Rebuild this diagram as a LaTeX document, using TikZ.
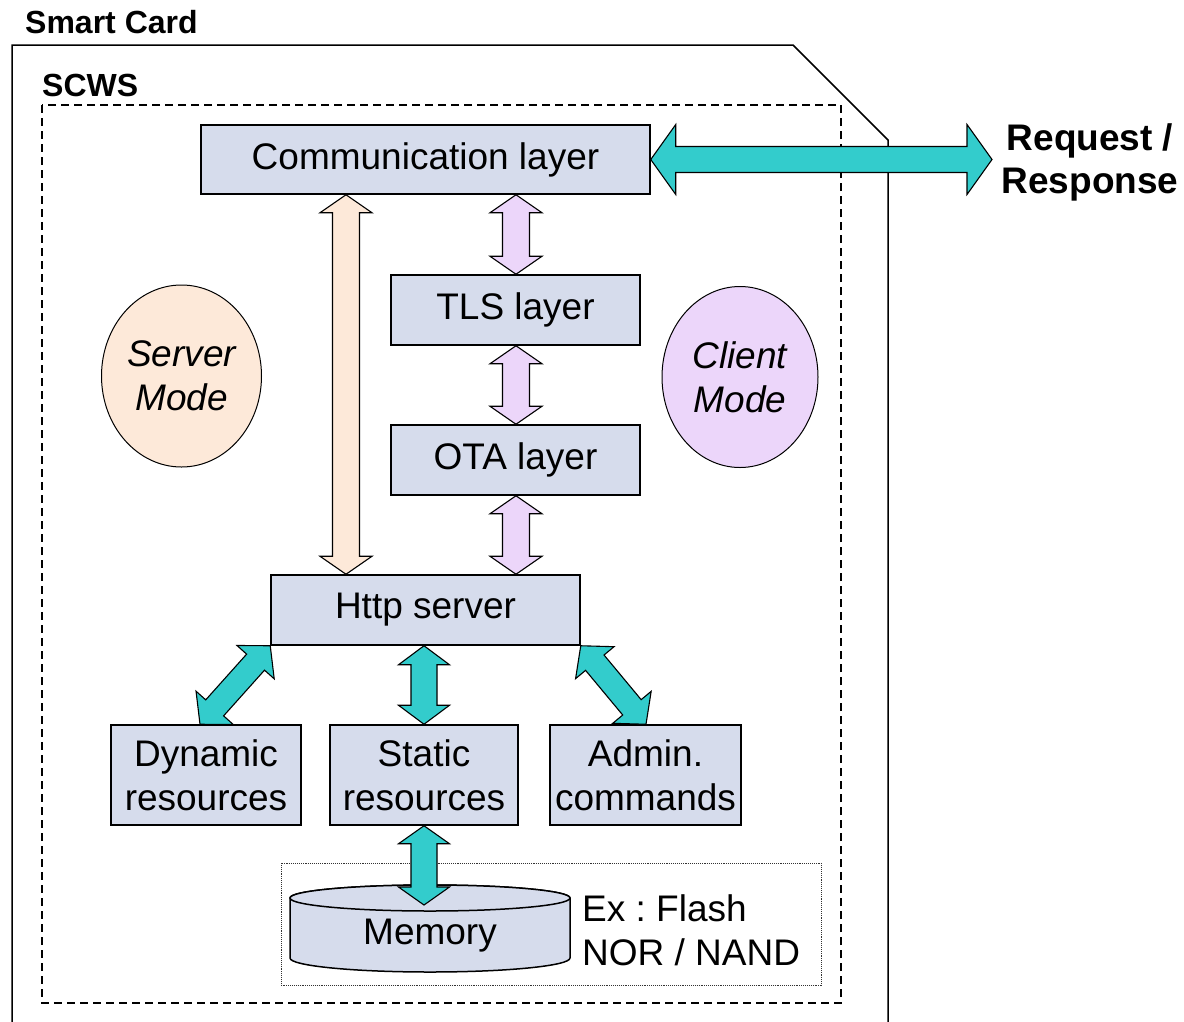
\documentclass[tikz,border=0pt]{standalone}
\usepackage{fontspec}
\setmainfont{Liberation Sans}
\usetikzlibrary{calc,shapes.geometric}
\frenchspacing

\definecolor{boxfill}{RGB}{214,220,236}
\definecolor{arrteal}{RGB}{51,204,204}
\definecolor{peach}{RGB}{253,233,217}
\definecolor{lilac}{RGB}{236,214,250}

% Double-headed block arrow between two points:
% #1 style, #2 from, #3 to, #4 head length, #5 shaft half width, #6 head half width
\newcommand\dblarrow[6]{%
  \coordinate (dac) at ($(#2)!#4!(#3)$);
  \coordinate (dad) at ($(#3)!#4!(#2)$);
  \draw[#1] (#2) -- ($(dac)!#6!90:(#3)$) -- ($(dac)!#5!90:(#3)$)
    -- ($(dad)!#5!-90:(#2)$) -- ($(dad)!#6!-90:(#2)$) -- (#3)
    -- ($(dad)!#6!90:(#2)$) -- ($(dad)!#5!90:(#2)$)
    -- ($(dac)!#5!-90:(#3)$) -- ($(dac)!#6!-90:(#3)$) -- cycle;
}

\tikzset{
  txt/.style={font=\fontsize{37}{44}\selectfont},
  boldtxt/.style={font=\fontsize{32}{38}\selectfont\bfseries},
  layer/.style={draw, line width=1.5pt, fill=boxfill, rectangle, inner sep=0pt, txt, align=center},
  mode/.style={draw, line width=1pt, ellipse, inner sep=0pt, txt, align=center, font=\fontsize{37}{44}\selectfont\itshape},
  tealarrow/.style={draw, line width=1.1pt, fill=arrteal, line join=miter},
  peacharrow/.style={draw, line width=1.1pt, fill=peach, line join=miter},
  lilacarrow/.style={draw, line width=1.1pt, fill=lilac, line join=miter},
}

\begin{document}
\begin{tikzpicture}[x=1pt, y=-1pt]
\useasboundingbox (0,0) rectangle (1184,1021);

% card outline with clipped corner
\draw[line width=1.5pt, line join=miter] (12,1025) -- (12,45) -- (793,45) -- (888,140) -- (888,1025);

% labels of the enclosures
\node[boldtxt, anchor=base west, inner sep=0pt] (cardlbl) at (25,33) {Smart Card};
\node[boldtxt, anchor=base west, inner sep=0pt] (scwslbl) at (42,96) {SCWS};

% SCWS enclosure
\draw[line width=1.3pt, dash pattern=on 8pt off 5pt] (42,105) rectangle (841,1003);

% memory area
\draw[line width=0.9pt, densely dotted, black!80] (281,863) rectangle (821,985);

% layers
\node[layer, minimum width=449pt, minimum height=69pt] (comm) at (425.5,159.5) {Communication layer};
\node[layer, minimum width=249pt, minimum height=70pt] (tls) at (515.5,310) {TLS layer};
\node[layer, minimum width=249pt, minimum height=70pt] (ota) at (515.5,460) {OTA layer};
\node[layer, minimum width=309pt, minimum height=70pt] (http) at (425.5,610) {Http server};

\node[layer, minimum width=190pt, minimum height=100pt] (dyn) at (206,775) {Dynamic\\resources};
\node[layer, minimum width=188pt, minimum height=100pt] (stat) at (424,775) {Static\\resources};
\node[layer, minimum width=191pt, minimum height=100pt] (adm) at (645.5,775) {Admin.\\commands};

% modes
\node[mode, fill=peach, minimum width=160pt, minimum height=182pt] (server) at (181.5,376) {Server\\Mode};
\node[mode, fill=lilac, minimum width=156pt, minimum height=181pt] (client) at (740,377) {Client\\Mode};

% memory cylinder
\filldraw[fill=boxfill, line width=1.5pt] (290,898) -- (290,958)
  arc[start angle=180, end angle=360, x radius=140pt, y radius=14pt] -- (570,898)
  arc[start angle=0, end angle=180, x radius=140pt, y radius=13pt] -- cycle;
\filldraw[fill=boxfill, line width=1.5pt] (430,898) ellipse[x radius=140pt, y radius=13pt];
\node[txt, inner sep=0pt] (mem) at (430,936) {Memory};
\node[txt, inner sep=0pt, anchor=west, align=left] (ex) at (582,930) {Ex : Flash\\NOR / NAND};

% request / response
\node[font=\fontsize{37}{43}\selectfont\bfseries, align=center, inner sep=0pt] (req) at (1090,162) {Request /\\Response};

% connector end points
\coordinate (reqtip) at (992,159.5);
\coordinate (pk) at (346,0);
\coordinate (lk) at (516,0);
\coordinate (dt) at (200,0);
\coordinate (at) at (646,0);
\coordinate (memtop) at (424,905);

% connectors
\dblarrow{tealarrow}{comm.east}{reqtip}{25pt}{13pt}{35pt}
\dblarrow{peacharrow}{comm.south -| pk}{http.north -| pk}{18pt}{13.5pt}{26pt}
\dblarrow{lilacarrow}{comm.south -| lk}{tls.north -| lk}{18pt}{13.5pt}{26pt}
\dblarrow{lilacarrow}{tls.south -| lk}{ota.north -| lk}{18pt}{13.5pt}{26pt}
\dblarrow{lilacarrow}{ota.south -| lk}{http.north -| lk}{18pt}{13.5pt}{26pt}
\dblarrow{tealarrow}{http.south west}{dyn.north -| dt}{22pt}{12pt}{25pt}
\dblarrow{tealarrow}{http.south -| stat.north}{stat.north}{19pt}{13pt}{25.5pt}
\dblarrow{tealarrow}{http.south east}{adm.north -| at}{22pt}{12pt}{25pt}
\dblarrow{tealarrow}{stat.south}{memtop}{18pt}{13pt}{25.5pt}
\end{tikzpicture}
\end{document}
